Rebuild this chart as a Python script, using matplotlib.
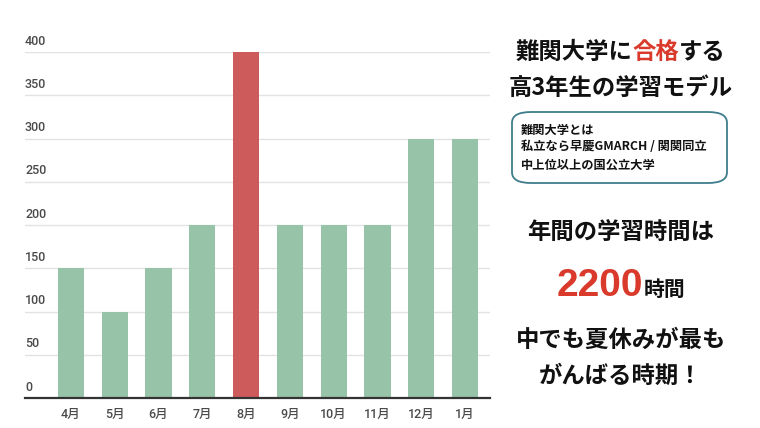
import matplotlib
matplotlib.use("Agg")
import matplotlib.pyplot as plt
from matplotlib.patches import FancyBboxPatch
import matplotlib.transforms as mtransforms

months = ["4月", "5月", "6月", "7月", "8月", "9月", "10月", "11月", "12月", "1月"]
hours = [150, 100, 150, 200, 400, 200, 200, 200, 300, 300]
highlight = "8月"
yticks = [0, 50, 100, 150, 200, 250, 300, 350, 400]

GREEN = "#97c3a8"
RED = "#cd5b5b"
TEXT_RED = "#d93a2b"
JP = ["Noto Sans CJK JP", "DejaVu Sans"]
TICKFONT = ["Roboto", "Noto Sans CJK JP"]

fig = plt.figure(figsize=(7.6, 4.28), dpi=100)
fig.patch.set_facecolor("white")

# chart area in figure pixels: x 25..490, y 52(400)..398(0)
W, H = 760, 428
ax = fig.add_axes([25 / W, (H - 398) / H, (490 - 25) / W, (398 - 52) / H])
x = list(range(len(months)))
colors = [RED if m == highlight else GREEN for m in months]
ax.bar(x, hours, width=0.6, color=colors, zorder=2)
ax.set_ylim(0, 400)
ax.set_xlim(-1.05, 9.57)

for s in ["top", "right", "left"]:
    ax.spines[s].set_visible(False)
ax.spines["bottom"].set_color("#333333")
ax.spines["bottom"].set_linewidth(1.6)
ax.spines["bottom"].set_zorder(3)

ax.set_yticks(yticks)
ax.yaxis.grid(True, color="#e2e2e2", linewidth=1.0, zorder=0)
ax.tick_params(axis="y", length=0, labelleft=False)
ax.set_xticks(x)
ax.set_xticklabels(months, fontfamily=TICKFONT, fontsize=9, color="#4a4a4a",
                   fontweight="medium")
ax.tick_params(axis="x", length=0, pad=7)

trans = mtransforms.blended_transform_factory(ax.transAxes, ax.transData)
for v in yticks:
    ax.text(0.0, v + 5, str(v), transform=trans, ha="left", va="bottom",
            fontfamily=TICKFONT, fontsize=9, color="#4a4a4a", fontweight="medium")

# right side texts
CX = 621 / W


def fy(py):
    return (H - py) / H


fig.canvas.draw()
renderer = fig.canvas.get_renderer()


def mixed_line(parts, y, size):
    texts = []
    for s, c in parts:
        t = fig.text(0, fy(y), s, ha="left", va="center", color=c,
                     fontfamily=JP, fontsize=size, fontweight="bold")
        texts.append(t)
    widths = [t.get_window_extent(renderer).width for t in texts]
    total = sum(widths)
    left = CX * W - total / 2
    for t, w in zip(texts, widths):
        t.set_x(left / W)
        left += w


mixed_line([("難関大学に", "#111111"), ("合格", TEXT_RED), ("する", "#111111")], 52, 16.8)
fig.text(CX, fy(88), "高3年生の学習モデル", ha="center", va="center",
         fontfamily=JP, fontsize=16.8, fontweight="bold", color="#111111")

box = FancyBboxPatch((512 / W, fy(183)), (727 - 512) / W, (183 - 112) / H,
                     boxstyle="round,pad=0,rounding_size=0.025",
                     transform=fig.transFigure, facecolor="white",
                     edgecolor="#3f7d8c", linewidth=1.3)
fig.patches.append(box)
for line, py in zip(["難関大学とは", "私立なら早慶GMARCH / 関関同立", "中上位以上の国公立大学"],
                    [130, 147, 165]):
    fig.text(521 / W, fy(py), line, ha="left", va="center", fontfamily=JP,
             fontsize=8.8, fontweight="bold", color="#111111")

fig.text(CX, fy(232), "年間の学習時間は", ha="center", va="center",
         fontfamily=JP, fontsize=16.8, fontweight="bold", color="#111111")

t1 = fig.text(0, fy(282), "2200", ha="left", va="baseline", color=TEXT_RED,
              fontfamily=["Liberation Sans"], fontsize=28, fontweight="bold")
t2 = fig.text(0, fy(282), "時間", ha="left", va="baseline", color="#111111",
              fontfamily=JP, fontsize=15, fontweight="bold")
fig.canvas.draw()
w1 = t1.get_window_extent(renderer).width
w2 = t2.get_window_extent(renderer).width
left = CX * W - (w1 + w2) / 2
t1.set_position((left / W, fy(296)))
t2.set_position(((left + w1) / W, fy(296)))

fig.text(CX, fy(340), "中でも夏休みが最も", ha="center", va="center",
         fontfamily=JP, fontsize=16.8, fontweight="bold", color="#111111")
fig.text(CX, fy(376), "がんばる時期！", ha="center", va="center",
         fontfamily=JP, fontsize=16.8, fontweight="bold", color="#111111")

fig.savefig("out.png", dpi=100, facecolor="white")
